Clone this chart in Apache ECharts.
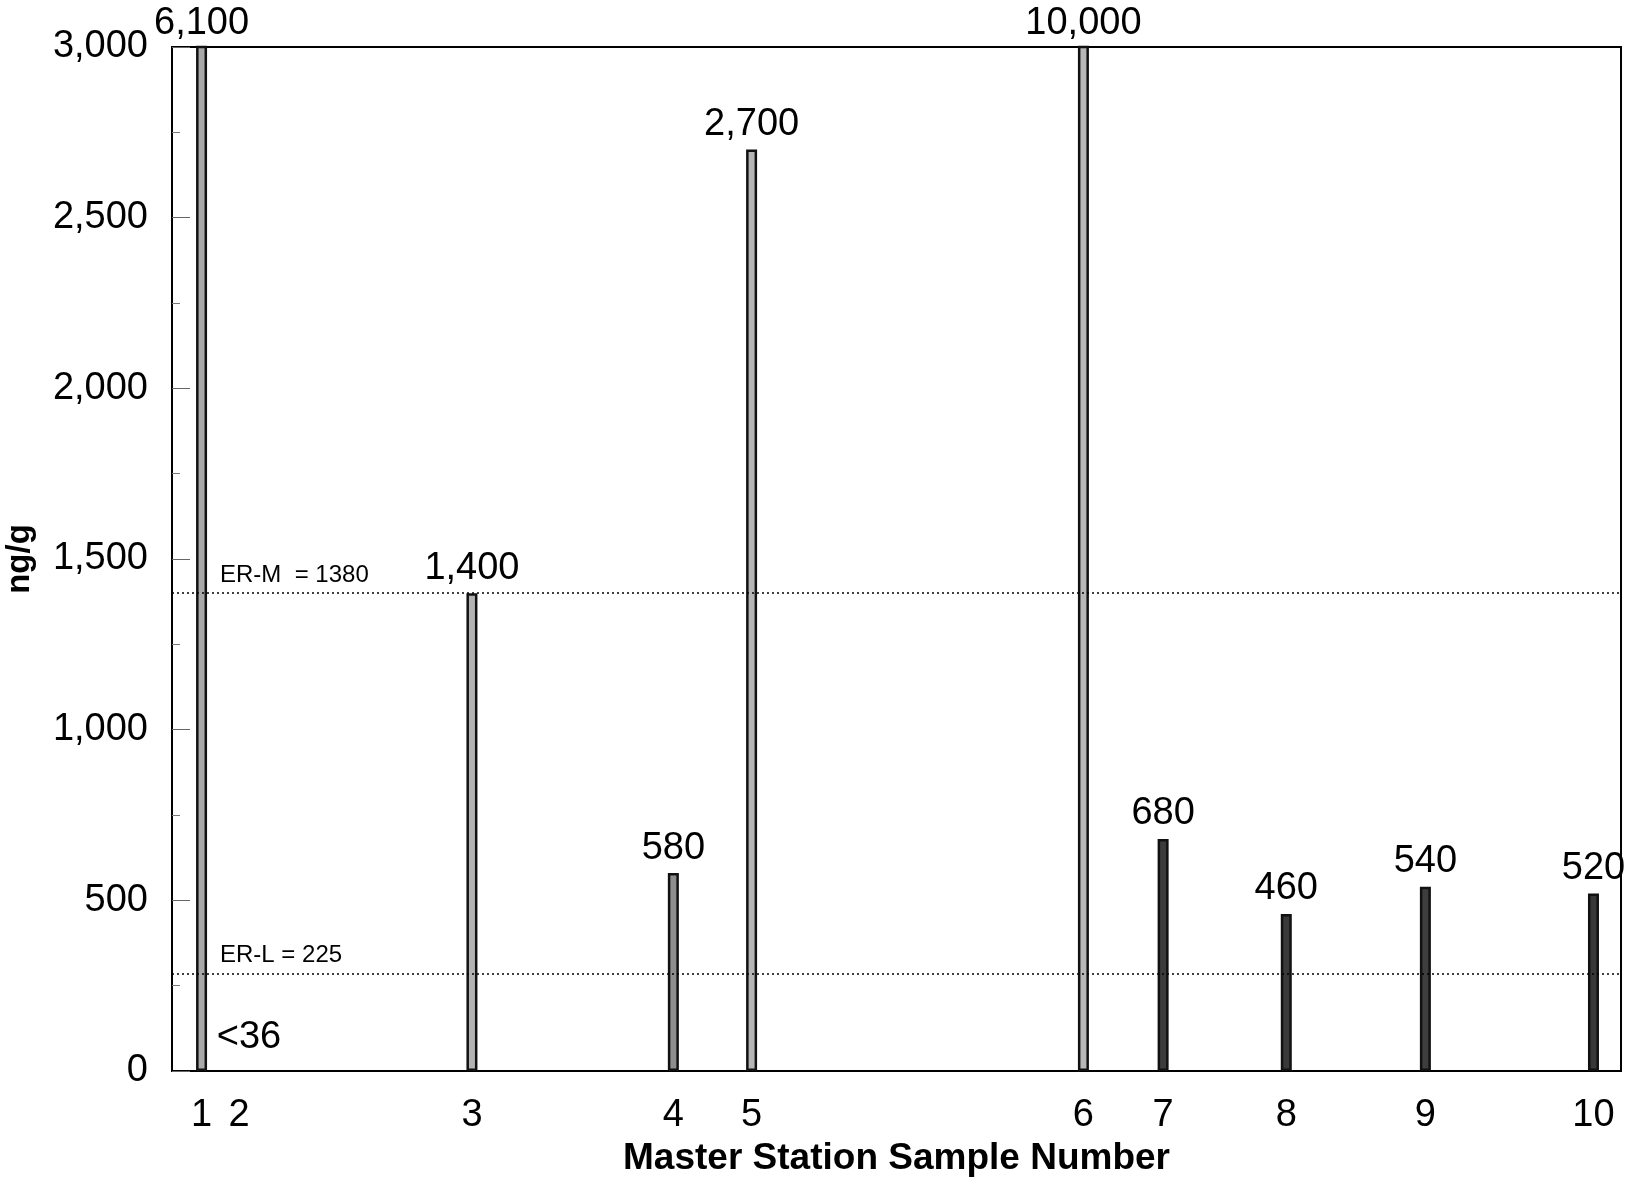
<!DOCTYPE html>
<html>
<head>
<meta charset="utf-8">
<script src="https://cdn.jsdelivr.net/npm/echarts@6/dist/echarts.min.js"></script>
<style>
html,body{margin:0;padding:0;background:#fff;}
#chart{width:1637px;height:1184px;}
</style>
</head>
<body>
<div id="chart"></div>
<script>
// Station numbers (x tick labels)
const stations = ['1', '2', '3', '4', '5', '6', '7', '8', '9', '10'];
// Station position along the x axis (axis units 0..100)
const stationPos = [2.04, 4.62, 20.7, 34.6, 40.0, 62.9, 68.4, 76.9, 86.5, 98.1];
// Concentration, ng/g (station 2 is below detection, <36)
const values = [6100, 0, 1400, 580, 2700, 10000, 680, 460, 540, 520];
// Text printed above each bar
const valueLabels = ['6,100', '<36', '1,400', '580', '2,700', '10,000', '680', '460', '540', '520'];
// Y tick values
const yTicks = [0, 500, 1000, 1500, 2000, 2500, 3000];
// Reference lines (as drawn) and their captions
const erLevels = [1400, 285];
const erCaptions = ['ER-M  = 1380', 'ER-L = 225'];

const barFills = ['#a9a9a9', '#ffffff', '#b3b3b3', '#8e8e8e', '#b5b5b5', '#b8b8b8', '#3c3c3c', '#3a3a3a', '#3e3e3e', '#383838'];

const FONT = '"Liberation Sans", Arial, Helvetica, sans-serif';

const chart = echarts.init(document.getElementById('chart'), null, {renderer: 'canvas'});

const barData = values.map((v, i) => {
  const item = {
    value: [stationPos[i], v],
    itemStyle: {color: barFills[i], borderColor: '#111', borderWidth: 2.5}
  };
  if (i === 1) {
    item.itemStyle = {color: 'rgba(0,0,0,0)', borderWidth: 0};
    item.label = {distance: 14, offset: [10, 0]};
  }
  if (v > 3000) {
    item.label = {offset: [0, 3]};
  }
  return item;
});

chart.setOption({
  animation: false,
  backgroundColor: '#fff',
  grid: {
    left: 172, right: 16, top: 47, bottom: 113,
    outerBoundsMode: 'none',
    containLabel: false,
    show: true, borderColor: '#000', borderWidth: 2, backgroundColor: 'transparent'
  },
  xAxis: {
    type: 'value', min: 0, max: 100,
    name: 'Master Station Sample Number',
    nameLocation: 'middle', nameGap: 68,
    nameTextStyle: {fontFamily: FONT, fontWeight: 'bold', fontSize: 37, color: '#000'},
    axisLine: {show: true, lineStyle: {color: '#000', width: 2}},
    axisTick: {show: false},
    splitLine: {show: false},
    axisLabel: {
      customValues: stationPos,
      formatter: (v) => { const k = stationPos.findIndex(p => Math.abs(p - v) < 1e-6); return k >= 0 ? stations[k] : ''; },
      fontFamily: FONT, fontSize: 38, color: '#000', margin: 26
    }
  },
  yAxis: {
    type: 'value', min: 0, max: 3000, interval: 500,
    name: 'ng/g', nameLocation: 'middle', nameGap: 136, nameRotate: 90,
    nameTextStyle: {fontFamily: FONT, fontWeight: 'bold', fontSize: 33, color: '#000'},
    axisLine: {show: true, lineStyle: {color: '#000', width: 2}},
    axisTick: {show: true, inside: true, length: 18, lineStyle: {color: '#666', width: 1}},
    minorTick: {show: true, splitNumber: 2, length: 8, lineStyle: {color: '#777', width: 1}},
    splitLine: {show: false},
    axisLabel: {
      customValues: yTicks,
      formatter: (v) => v.toLocaleString('en-US'),
      fontFamily: FONT, fontSize: 38, color: '#000', margin: 24,
      padding: [12, 0, 0, 0]
    }
  },
  series: [{
    type: 'bar',
    barWidth: 11,
    clip: true,
    data: barData,
    label: {
      show: true, position: 'top', distance: 6,
      fontFamily: FONT, fontSize: 38, color: '#000',
      formatter: (p) => valueLabels[p.dataIndex]
    },
    markLine: {
      silent: true,
      symbol: 'none',
      lineStyle: {type: [2, 3], color: '#000', width: 1.5},
      label: {
        show: true, position: 'insideStartTop', distance: 6,
        fontFamily: FONT, fontSize: 24, color: '#000',
        padding: [0, 0, 0, 42]
      },
      data: erLevels.map((y, i) => ({yAxis: y, label: {formatter: erCaptions[i]}}))
    }
  }]
});
</script>
</body>
</html>
